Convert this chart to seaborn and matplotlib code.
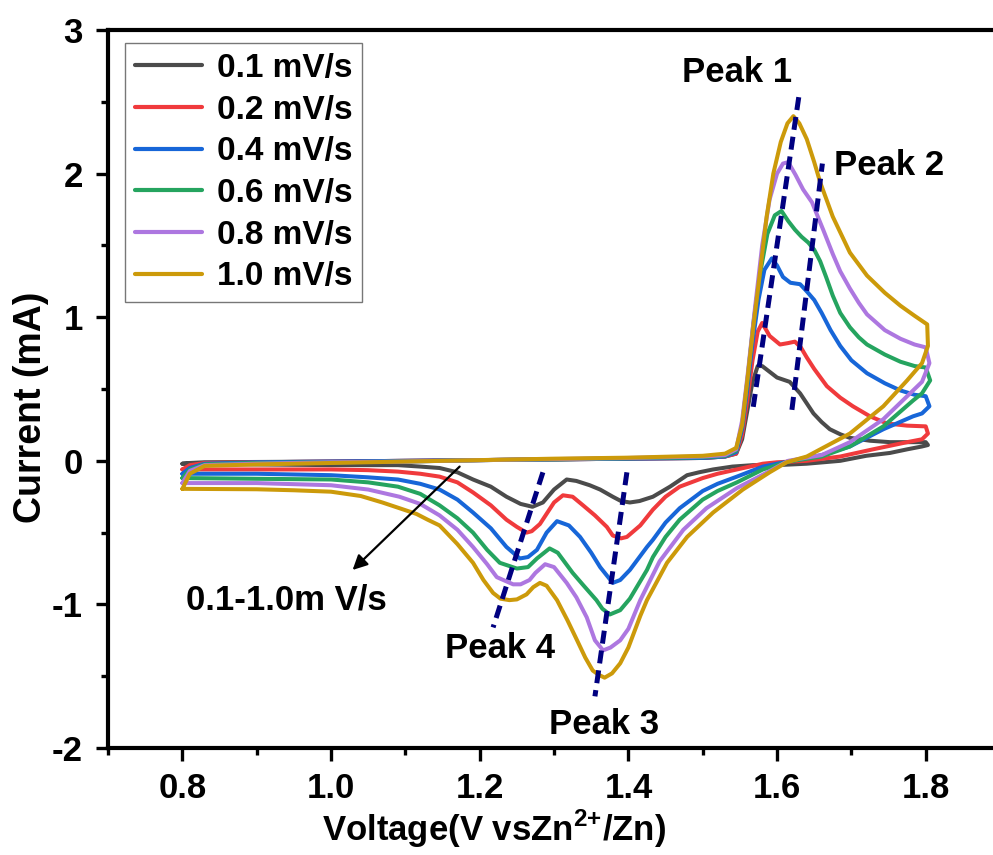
import numpy as np
import pandas as pd
import seaborn as sns
import matplotlib.pyplot as plt
from matplotlib.ticker import MultipleLocator

# ============================================================
# DATA: voltage (V) / current (mA)
# each loop: forward scan 0.8 -> 1.8 V, then reverse scan back to 0.8 V
# ============================================================
v_01 = [0.80, 0.81, 0.83, 0.90, 1.00, 1.10, 1.20, 1.30, 1.40, 1.50, 1.53, 1.545, 1.553, 1.560, 1.567,
        1.574, 1.580, 1.590, 1.600, 1.617, 1.631, 1.640, 1.649, 1.660, 1.671, 1.685, 1.698, 1.725,
        1.752, 1.780, 1.800,
        1.803, 1.795, 1.775, 1.752, 1.720, 1.685, 1.640, 1.600, 1.568, 1.540, 1.514, 1.495, 1.479,
        1.456, 1.433, 1.415, 1.402, 1.390, 1.379, 1.362, 1.348, 1.330, 1.317, 1.300, 1.285, 1.271,
        1.255, 1.236, 1.215, 1.191, 1.170, 1.146, 1.120, 1.090, 1.050, 1.000, 0.900, 0.800]
i_01 = [-0.02, -0.015, -0.01, -0.008, -0.005, 0.0, 0.005, 0.01, 0.015, 0.02, 0.03, 0.05, 0.15, 0.35, 0.55,
        0.66, 0.66, 0.62, 0.58, 0.55, 0.47, 0.40, 0.33, 0.27, 0.22, 0.185, 0.16, 0.14,
        0.13, 0.13, 0.13,
        0.11, 0.10, 0.08, 0.055, 0.035, 0.0, -0.02, -0.03, -0.03, -0.04, -0.06, -0.08, -0.10,
        -0.18, -0.25, -0.28, -0.29, -0.28, -0.25, -0.20, -0.17, -0.14, -0.13, -0.20, -0.29, -0.32,
        -0.30, -0.25, -0.18, -0.13, -0.08, -0.05, -0.04, -0.03, -0.03, -0.03, -0.025, -0.02]

v_02 = [0.80, 0.81, 0.83, 0.90, 1.00, 1.10, 1.20, 1.30, 1.40, 1.50, 1.53, 1.545, 1.553, 1.560, 1.567,
        1.574, 1.580, 1.590, 1.604, 1.615, 1.624, 1.632, 1.640, 1.650, 1.667, 1.685, 1.702, 1.725,
        1.748, 1.775, 1.800,
        1.803, 1.795, 1.775, 1.729, 1.685, 1.640, 1.600, 1.581, 1.546, 1.520, 1.500, 1.469, 1.450,
        1.433, 1.416, 1.398, 1.390, 1.379, 1.371, 1.355, 1.339, 1.325, 1.312, 1.300, 1.281, 1.270,
        1.263, 1.250, 1.236, 1.215, 1.191, 1.170, 1.146, 1.120, 1.090, 1.050, 1.000, 0.900, 0.800]
i_02 = [-0.06, -0.03, -0.015, -0.01, -0.005, 0.0, 0.005, 0.01, 0.015, 0.02, 0.03, 0.05, 0.18, 0.42, 0.70,
        0.90, 0.96, 0.87, 0.81, 0.82, 0.83, 0.79, 0.72, 0.64, 0.52, 0.44, 0.38, 0.31,
        0.26, 0.245, 0.24,
        0.19, 0.15, 0.13, 0.08, 0.03, 0.0, -0.01, -0.02, -0.06, -0.09, -0.12, -0.18, -0.25,
        -0.34, -0.45, -0.53, -0.54, -0.52, -0.46, -0.38, -0.31, -0.25, -0.24, -0.29, -0.44, -0.49,
        -0.50, -0.46, -0.41, -0.31, -0.22, -0.15, -0.11, -0.09, -0.075, -0.065, -0.06, -0.06, -0.06]

v_04 = [0.80, 0.81, 0.83, 0.90, 1.00, 1.10, 1.20, 1.30, 1.40, 1.50, 1.53, 1.545, 1.553, 1.560, 1.567,
        1.575, 1.583, 1.593, 1.600, 1.608, 1.618, 1.631, 1.640, 1.650, 1.660, 1.672, 1.685, 1.700,
        1.721, 1.745, 1.766, 1.785, 1.800,
        1.805, 1.795, 1.783, 1.743, 1.698, 1.660, 1.620, 1.600, 1.581, 1.546, 1.520, 1.500, 1.469,
        1.450, 1.433, 1.425, 1.402, 1.389, 1.379, 1.362, 1.350, 1.335, 1.320, 1.304, 1.290, 1.277,
        1.265, 1.254, 1.236, 1.215, 1.191, 1.170, 1.146, 1.120, 1.090, 1.050, 1.000, 0.900, 0.800]
i_04 = [-0.09, -0.05, -0.02, -0.01, -0.005, 0.0, 0.005, 0.01, 0.015, 0.02, 0.03, 0.06, 0.22, 0.50, 0.82,
        1.12, 1.33, 1.41, 1.36, 1.28, 1.24, 1.23, 1.18, 1.12, 1.03, 0.91, 0.80, 0.70,
        0.61, 0.54, 0.49, 0.46, 0.45,
        0.38, 0.33, 0.31, 0.22, 0.10, 0.04, 0.0, -0.02, -0.04, -0.11, -0.16, -0.21, -0.33,
        -0.43, -0.55, -0.60, -0.76, -0.83, -0.85, -0.74, -0.64, -0.53, -0.45, -0.42, -0.50, -0.62,
        -0.67, -0.68, -0.60, -0.47, -0.36, -0.27, -0.20, -0.16, -0.13, -0.115, -0.10, -0.09, -0.09]

v_06 = [0.80, 0.81, 0.83, 0.90, 1.00, 1.10, 1.20, 1.30, 1.40, 1.50, 1.53, 1.545, 1.553, 1.560, 1.568,
        1.577, 1.587, 1.597, 1.606, 1.615, 1.624, 1.633, 1.642, 1.650, 1.658, 1.666, 1.675, 1.685,
        1.698, 1.710, 1.721, 1.745, 1.766, 1.785, 1.800,
        1.806, 1.795, 1.783, 1.743, 1.698, 1.660, 1.615, 1.600, 1.581, 1.546, 1.520, 1.500, 1.469,
        1.450, 1.433, 1.425, 1.402, 1.389, 1.375, 1.365, 1.357, 1.340, 1.325, 1.305, 1.294, 1.277,
        1.265, 1.250, 1.227, 1.210, 1.191, 1.170, 1.146, 1.120, 1.090, 1.050, 1.000, 0.900, 0.800]
i_06 = [-0.12, -0.06, -0.025, -0.015, -0.01, -0.005, 0.005, 0.01, 0.018, 0.025, 0.035, 0.07, 0.25, 0.55, 0.95,
        1.30, 1.58, 1.71, 1.74, 1.67, 1.61, 1.56, 1.52, 1.47, 1.39, 1.28, 1.15, 1.03,
        0.93, 0.86, 0.81, 0.74, 0.69, 0.66, 0.65,
        0.56, 0.47, 0.42, 0.24, 0.10, 0.03, -0.005, -0.03, -0.06, -0.15, -0.21, -0.27, -0.41,
        -0.53, -0.67, -0.76, -0.96, -1.04, -1.07, -1.03, -0.97, -0.87, -0.78, -0.64, -0.61, -0.68,
        -0.74, -0.75, -0.71, -0.62, -0.50, -0.40, -0.31, -0.23, -0.18, -0.15, -0.13, -0.125, -0.12]

v_08 = [0.80, 0.81, 0.83, 0.90, 1.00, 1.10, 1.20, 1.30, 1.40, 1.50, 1.53, 1.545, 1.553, 1.560, 1.570,
        1.580, 1.590, 1.600, 1.608, 1.615, 1.625, 1.635, 1.647, 1.662, 1.675, 1.685, 1.698, 1.710,
        1.721, 1.745, 1.766, 1.785, 1.800,
        1.805, 1.795, 1.783, 1.743, 1.698, 1.660, 1.615, 1.587, 1.546, 1.505, 1.474, 1.442, 1.416,
        1.400, 1.389, 1.376, 1.366, 1.355, 1.344, 1.330, 1.317, 1.300, 1.288, 1.275, 1.267, 1.255,
        1.245, 1.223, 1.210, 1.191, 1.170, 1.146, 1.120, 1.092, 1.050, 1.000, 0.900, 0.800]
i_08 = [-0.155, -0.07, -0.03, -0.02, -0.01, -0.005, 0.005, 0.012, 0.02, 0.03, 0.04, 0.08, 0.28, 0.58, 1.05,
        1.50, 1.82, 2.00, 2.07, 2.08, 1.99, 1.89, 1.80, 1.61, 1.44, 1.32, 1.20, 1.10,
        1.02, 0.91, 0.85, 0.81, 0.79,
        0.68, 0.55, 0.49, 0.29, 0.13, 0.04, 0.0, -0.08, -0.19, -0.33, -0.48, -0.70, -0.97,
        -1.17, -1.25, -1.30, -1.32, -1.25, -1.09, -0.95, -0.85, -0.74, -0.72, -0.78, -0.83, -0.86,
        -0.86, -0.81, -0.72, -0.60, -0.48, -0.38, -0.30, -0.25, -0.20, -0.17, -0.155, -0.155]

v_10 = [0.80, 0.81, 0.83, 0.90, 1.00, 1.10, 1.20, 1.30, 1.40, 1.50, 1.53, 1.545, 1.553, 1.560, 1.568,
        1.577, 1.586, 1.595, 1.605, 1.614, 1.622, 1.630, 1.640, 1.650, 1.658, 1.675, 1.698, 1.721,
        1.745, 1.766, 1.785, 1.802,
        1.803, 1.795, 1.775, 1.743, 1.698, 1.640, 1.613, 1.590, 1.554, 1.514, 1.479, 1.452, 1.425,
        1.416, 1.400, 1.389, 1.378, 1.368, 1.360, 1.352, 1.342, 1.331, 1.318, 1.304, 1.290, 1.281,
        1.272, 1.263, 1.250, 1.240, 1.228, 1.218, 1.205, 1.191, 1.170, 1.146, 1.130, 1.115, 1.095,
        1.069, 1.040, 1.000, 0.950, 0.900, 0.800]
i_10 = [-0.195, -0.09, -0.035, -0.025, -0.015, -0.005, 0.005, 0.015, 0.022, 0.035, 0.05, 0.09, 0.25, 0.56, 0.93,
        1.31, 1.70, 2.00, 2.22, 2.35, 2.40, 2.35, 2.24, 2.08, 1.94, 1.70, 1.45, 1.29,
        1.17, 1.08, 1.01, 0.95,
        0.80, 0.68, 0.56, 0.38, 0.19, 0.03, -0.01, -0.08, -0.20, -0.36, -0.53, -0.71, -0.97,
        -1.08, -1.30, -1.41, -1.48, -1.51, -1.49, -1.46, -1.37, -1.25, -1.11, -0.97, -0.87, -0.85,
        -0.88, -0.93, -0.965, -0.97, -0.96, -0.92, -0.83, -0.71, -0.58, -0.45, -0.41, -0.37, -0.335,
        -0.29, -0.245, -0.215, -0.205, -0.198, -0.195]

rates = ["0.1 mV/s", "0.2 mV/s", "0.4 mV/s", "0.6 mV/s", "0.8 mV/s", "1.0 mV/s"]
colors = ["#4b4b4b", "#f03a3c", "#1766d8", "#25a45f", "#ad77e0", "#cc9a0a"]

# dashed guide lines through the peaks (start / end)
peak1_v = [1.568, 1.630]
peak1_i = [0.376, 2.56]
peak2_v = [1.620, 1.661]
peak2_i = [0.355, 2.07]
peak3_v = [1.398, 1.355]
peak3_i = [-0.08, -1.64]
peak4_v = [1.285, 1.218]
peak4_i = [-0.08, -1.16]

# ============================================================
# STYLE
# ============================================================
sns.set_style("ticks")
plt.rcParams["font.family"] = ["Liberation Sans", "DejaVu Sans"]
plt.rcParams["font.weight"] = "bold"
plt.rcParams["text.color"] = "black"
plt.rcParams["axes.labelcolor"] = "black"
plt.rcParams["xtick.color"] = "black"
plt.rcParams["ytick.color"] = "black"
plt.rcParams["axes.unicode_minus"] = False
plt.rcParams["mathtext.fontset"] = "custom"
plt.rcParams["mathtext.bf"] = "Liberation Sans:bold"
plt.rcParams["mathtext.rm"] = "Liberation Sans:bold"

fig = plt.figure(figsize=(9.93, 8.55), dpi=100)
ax = fig.add_axes([0.1088, 0.1251, 0.8983, 0.8398])

curves = [(v_01, i_01), (v_02, i_02), (v_04, i_04), (v_06, i_06), (v_08, i_08), (v_10, i_10)]
for (v, i), lab, col in zip(curves, rates, colors):
    d = pd.DataFrame({"V": v, "I": i})
    sns.lineplot(data=d, x="V", y="I", sort=False, estimator=None, color=col,
                 lw=2.9, label=lab, ax=ax)

handles, labels = ax.get_legend_handles_labels()

for pv, pi in [(peak1_v, peak1_i), (peak2_v, peak2_i), (peak3_v, peak3_i), (peak4_v, peak4_i)]:
    ax.plot(pv, pi, color="#000080", lw=3.6, linestyle=(0, (2.6, 1.4)), zorder=5)

# ============================================================
# AXES
# ============================================================
ax.set_xlim(0.7, 1.9)
ax.set_ylim(-2, 3)
ax.xaxis.set_major_locator(MultipleLocator(0.2))
ax.xaxis.set_minor_locator(MultipleLocator(0.1))
ax.yaxis.set_major_locator(MultipleLocator(1))
ax.yaxis.set_minor_locator(MultipleLocator(0.5))
ax.tick_params(axis="both", which="major", direction="out", length=9, width=2.4,
               labelsize=25, color="black", labelcolor="black")
ax.tick_params(axis="both", which="minor", direction="out", length=5, width=2.4, color="black")
ax.tick_params(axis="x", which="major", pad=8)
ax.tick_params(axis="y", which="major", pad=9)
for lab in ax.get_xticklabels() + ax.get_yticklabels():
    lab.set_fontweight("bold")
for s in ["left", "bottom", "top", "right"]:
    ax.spines[s].set_linewidth(3.0)
    ax.spines[s].set_color("black")

ax.set_xlabel(r"Voltage(V vsZn$^{\mathbf{2{+}}}$/Zn)", fontsize=25, fontweight="bold", color="black")
ax.set_ylabel("Current (mA)", fontsize=27, fontweight="bold", color="black")
ax.xaxis.set_label_coords(0.433, -0.083)
ax.yaxis.set_label_coords(-0.066, 0.475)

leg = ax.legend(handles, labels, loc="upper left", bbox_to_anchor=(0.019, 0.982),
                borderaxespad=0, fontsize=24, frameon=True, fancybox=False,
                edgecolor="#555555", handlelength=2.0, handletextpad=0.45,
                labelspacing=0.32, borderpad=0.3)
leg.get_frame().set_linewidth(1.0)
for t in leg.get_texts():
    t.set_fontweight("bold")
    t.set_color("black")
for ln in leg.get_lines():
    ln.set_linewidth(3.0)

# annotations
ax.text(1.546, 2.64, "Peak 1", fontsize=25, fontweight="bold", ha="center", va="baseline")
ax.text(1.751, 1.99, "Peak 2", fontsize=25, fontweight="bold", ha="center", va="baseline")
ax.text(1.367, -1.905, "Peak 3", fontsize=25, fontweight="bold", ha="center", va="baseline")
ax.text(1.227, -1.372, "Peak 4", fontsize=25, fontweight="bold", ha="center", va="baseline")
ax.text(0.940, -1.038, "0.1-1.0m V/s", fontsize=25, fontweight="bold", ha="center", va="baseline")
ax.annotate("", xy=(1.029, -0.76), xytext=(1.173, -0.04),
            arrowprops=dict(arrowstyle="-|>", color="black", lw=1.6,
                            mutation_scale=22, shrinkA=0, shrinkB=0))

fig.savefig("out.png", dpi=100)
